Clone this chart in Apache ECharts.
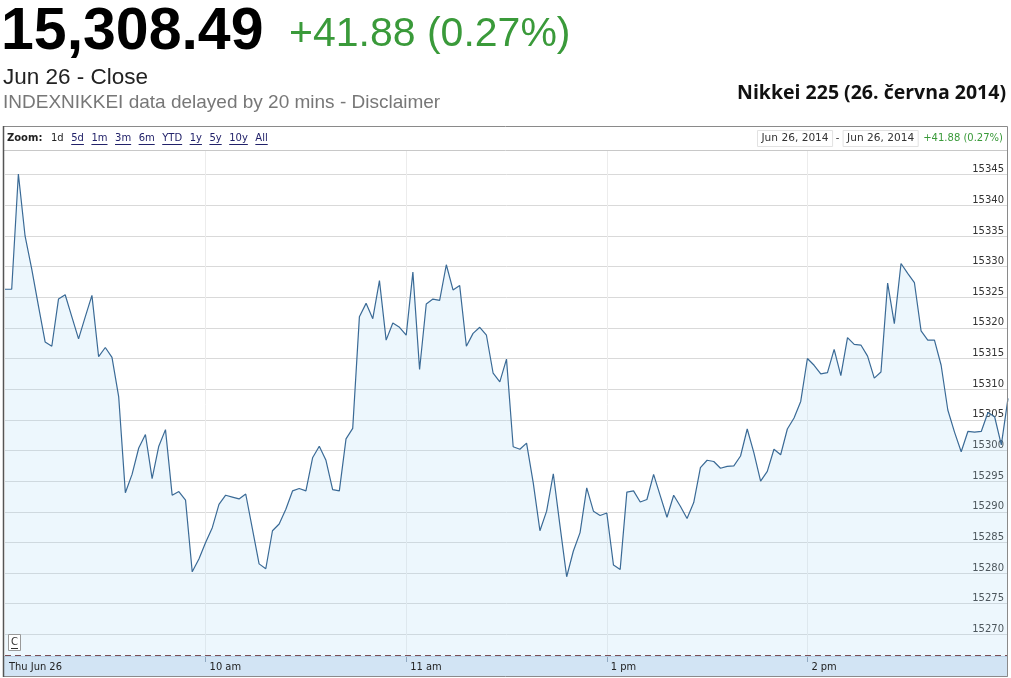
<!DOCTYPE html>
<html>
<head>
<meta charset="utf-8">
<script src="https://cdn.jsdelivr.net/npm/echarts@6/dist/echarts.min.js"></script>
<style>
html,body{margin:0;padding:0;background:#fff;}
#chart{width:1011px;height:678px;}
</style>
</head>
<body>
<div id="chart"></div>
<script>
// ---- data ----
const prices = [
15326.3, 15326.3, 15345.1, 15335.0, 15329.6, 15323.6, 15317.7, 15317.0, 15324.7, 15325.4,
15321.8, 15318.2, 15321.8, 15325.3, 15315.3, 15316.8, 15315.2, 15308.8, 15293.1, 15296.1,
15300.4, 15302.6, 15295.4, 15300.7, 15303.4, 15292.7, 15293.3, 15291.9, 15280.2, 15282.3,
15285.0, 15287.4, 15291.2, 15292.7, 15292.4, 15292.1, 15292.9, 15287.2, 15281.5, 15280.7,
15286.9, 15288.0, 15290.4, 15293.4, 15293.8, 15293.4, 15298.8, 15300.7, 15298.4, 15293.6,
15293.4, 15301.9, 15303.6, 15321.8, 15324.0, 15321.5, 15327.7, 15318.0, 15320.8, 15320.1,
15318.8, 15329.1, 15313.2, 15323.9, 15324.7, 15324.5, 15330.3, 15326.2, 15326.9, 15317.0,
15319.1, 15320.1, 15318.8, 15312.6, 15311.2, 15314.9, 15300.6, 15300.2, 15301.2, 15294.7,
15286.9, 15290.1, 15296.2, 15287.7, 15279.4, 15283.6, 15286.6, 15293.9, 15290.1, 15289.4,
15289.8, 15281.3, 15280.6, 15293.2, 15293.4, 15291.6, 15292.0, 15296.1, 15292.6, 15289.1,
15292.7, 15290.9, 15288.9, 15291.5, 15297.2, 15298.4, 15298.2, 15297.1, 15297.4, 15297.5,
15299.1, 15303.5, 15299.6, 15295.0, 15296.6, 15300.2, 15299.3, 15303.5, 15305.3, 15308.0,
15315.0, 15313.9, 15312.5, 15312.7, 15316.5, 15312.2, 15318.4, 15317.3, 15317.2, 15315.4,
15311.8, 15312.8, 15327.3, 15320.7, 15330.5, 15328.9, 15327.4, 15319.5, 15318.0, 15318.0,
15313.9, 15306.6, 15303.0, 15299.8, 15303.1, 15303.0, 15303.1, 15306.2, 15305.5, 15300.9,
15308.49
];
const prevClose = 15266.61;
const tickIndexes = [0, 30, 60, 90, 120];
const tickLabels = ['Thu Jun 26', '10 am', '11 am', '1 pm', '2 pm'];
const yMin = 15265, yMax = 15350, yStep = 5;
const zoomLinks = ['1d', '5d', '1m', '3m', '6m', 'YTD', '1y', '5y', '10y', 'All'];
const headPrice = '15,308.49';
const headChange = '+41.88 (0.27%)';
const headDate = 'Jun 26 - Close';
const headNote = 'INDEXNIKKEI data delayed by 20 mins - Disclaimer';
const chartTitle = 'Nikkei 225 (26. června 2014)';
const rangeFrom = 'Jun 26, 2014', rangeTo = 'Jun 26, 2014';

// trading-time categories (2-minute bars, lunch break removed)
const categories = prices.map((_, i) => {
  let m = i <= 75 ? 9 * 60 + 2 * i : 12 * 60 + 30 + 2 * (i - 75);
  return String(Math.floor(m / 60)).padStart(2, '0') + ':' + String(m % 60).padStart(2, '0');
});

const GREEN = '#3a9a3a';
const SANS = '"Liberation Sans", Arial, sans-serif';
const VERD = '"DejaVu Sans", Verdana, sans-serif';

// measure text for the zoom link row
const mctx = document.createElement('canvas').getContext('2d');
function tw(t, font) { mctx.font = font; return mctx.measureText(t).width; }

const graphics = [];
// header
graphics.push({type:'text', z:100, style:{text: headPrice, x:1, y:33, font:'bold 59px ' + SANS, fill:'#000', align:'left', verticalAlign:'middle'}});
graphics.push({type:'text', z:100, style:{text: headChange, x:289, y:35, font:'41px ' + SANS, fill:GREEN, align:'left', verticalAlign:'middle'}});
graphics.push({type:'text', z:100, style:{text: headDate, x:3, y:78, font:'22.5px ' + SANS, fill:'#222', align:'left', verticalAlign:'middle'}});
graphics.push({type:'text', z:100, style:{text: headNote, x:3, y:103, font:'19px ' + SANS, fill:'#777', align:'left', verticalAlign:'middle'}});
graphics.push({type:'text', z:100, style:{text: chartTitle, x:1006, y:93, font:'bold 19.5px "Open Sans", ' + SANS, fill:'#111', align:'right', verticalAlign:'middle'}});

// zoom bar (covers top of plot grid)
graphics.push({type:'rect', z:6, shape:{x:3, y:126, width:1005, height:24}, style:{fill:'#fff', stroke:null}});
graphics.push({type:'line', z:6, shape:{x1:3, y1:150.5, x2:1008, y2:150.5}, style:{stroke:'#c8c8c8', lineWidth:1}});
const zf = '10px ' + VERD, zfb = 'bold 10px ' + VERD, df = '10.6px ' + VERD;
graphics.push({type:'text', z:100, style:{text:'Zoom:', x:7, y:138, font:zfb, fill:'#222', align:'left', verticalAlign:'middle'}});
let zx = 51;
zoomLinks.forEach((t, k) => {
  const w = tw(t, zf);
  graphics.push({type:'text', z:100, style:{text:t, x:zx, y:138, font:zf, fill: k === 0 ? '#222' : '#22226a', align:'left', verticalAlign:'middle'}});
  if (k > 0) graphics.push({type:'line', z:100, shape:{x1:zx, y1:144.5, x2:zx + w, y2:144.5}, style:{stroke:'#22226a', lineWidth:1}});
  zx += w + 7.5;
});
// date range boxes
function dateBox(t, x) {
  const w = tw(t, df);
  graphics.push({type:'rect', z:100, shape:{x:x, y:130.5, width:w + 8, height:16}, style:{fill:'#fff', stroke:'#e2e2e2', lineWidth:1}});
  graphics.push({type:'text', z:100, style:{text:t, x:x + 4, y:138.5, font:df, fill:'#333', align:'left', verticalAlign:'middle'}});
  return x + w + 8;
}
let rx = dateBox(rangeFrom, 757.5);
graphics.push({type:'text', z:100, style:{text:'-', x:rx + 5, y:138, font:zf, fill:'#333', align:'center', verticalAlign:'middle'}});
rx = dateBox(rangeTo, rx + 10.5);
graphics.push({type:'text', z:100, style:{text: headChange, x:1003, y:138.5, font:zf, fill:GREEN, align:'right', verticalAlign:'middle'}});

// x-axis band (covers bottom of plot grid)
graphics.push({type:'rect', z:6, shape:{x:3, y:657, width:1005, height:20}, style:{fill:'#d2e4f4', stroke:null}});
graphics.push({type:'line', z:6, shape:{x1:3, y1:656.5, x2:1008, y2:656.5}, style:{stroke:'#b9cfe3', lineWidth:1}});
// frame
graphics.push({type:'rect', z:100, shape:{x:3.5, y:126.5, width:1004, height:550}, style:{fill:null, stroke:'#8a8a8a', lineWidth:1}});
graphics.push({type:'line', z:100, shape:{x1:3.5, y1:126, x2:3.5, y2:677}, style:{stroke:'#555', lineWidth:1.5}});
// "C" button
graphics.push({type:'rect', z:100, shape:{x:8.5, y:634.5, width:12, height:16}, style:{fill:'#fff', stroke:'#999', lineWidth:1}});
graphics.push({type:'text', z:100, style:{text:'C', x:14.5, y:642, font:'10px ' + VERD, fill:'#333', align:'center', verticalAlign:'middle'}});
graphics.push({type:'line', z:100, shape:{x1:11, y1:648.5, x2:18, y2:648.5}, style:{stroke:'#333', lineWidth:1}});

const isTick = (idx) => tickIndexes.indexOf(idx) >= 0;

const option = {
  animation: false,
  backgroundColor: '#fff',
  grid: {left: 5, right: 3, top: 144, bottom: 13, containLabel: false},
  xAxis: {
    type: 'category',
    data: categories,
    boundaryGap: false,
    offset: -8,
    z: 10,
    axisLine: {show: false},
    axisTick: {show: true, length: 5, interval: (idx) => isTick(idx) && idx > 0, lineStyle: {color: '#8fa8c0'}},
    splitLine: {show: false},
    axisLabel: {
      interval: (idx) => isTick(idx),
      formatter: (val, idx) => { const k = tickIndexes.indexOf(idx); return k >= 0 ? tickLabels[k] : ''; },
      align: 'left', verticalAlign: 'middle', margin: 10, padding: [0, 0, 0, 4],
      fontFamily: '"DejaVu Sans Condensed", "DejaVu Sans", sans-serif', fontSize: 11, color: '#222'
    }
  },
  yAxis: {
    type: 'value',
    position: 'right',
    min: yMin, max: yMax, interval: yStep,
    z: 0,
    axisLine: {show: false},
    axisTick: {show: false},
    splitLine: {show: true, showMinLine: false, showMaxLine: false, lineStyle: {color: '#d9d9d9', width: 1}},
    axisLabel: {
      inside: true, margin: 4, verticalAlign: 'bottom',
      formatter: (v) => (v === yMin || v === yMax) ? '' : String(v),
      fontFamily: VERD, fontSize: 10, color: '#333'
    }
  },
  series: [{
    type: 'line',
    data: prices,
    showSymbol: false,
    z: 2,
    lineStyle: {color: '#3a6a96', width: 1.2},
    areaStyle: {color: 'rgba(170,215,245,0.3)'},
    markLine: {
      silent: true,
      z: 1,
      symbol: 'none',
      label: {show: false},
      data: tickIndexes.slice(1).map(i => ({xAxis: categories[i], lineStyle: {color: '#ececec', type: 'solid', width: 1}}))
        .concat([{yAxis: prevClose, lineStyle: {color: '#6e2a2a', type: [6, 4], width: 1}}])
    }
  }],
  graphic: graphics
};

const chart = echarts.init(document.getElementById('chart'), null, {renderer: 'canvas'});
chart.setOption(option);
</script>
</body>
</html>
